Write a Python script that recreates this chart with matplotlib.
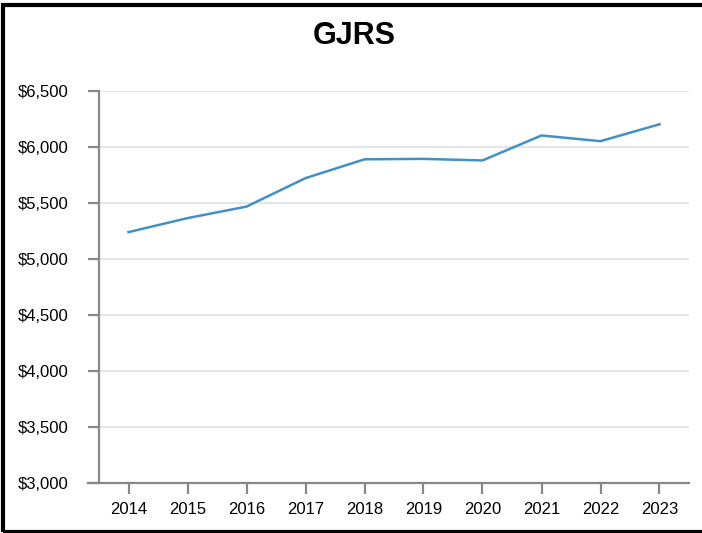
import matplotlib
matplotlib.use("Agg")
import matplotlib.pyplot as plt
from matplotlib.patches import Rectangle
from matplotlib.ticker import FuncFormatter

years = ["2014", "2015", "2016", "2017", "2018", "2019", "2020", "2021", "2022", "2023"]
values = [5240, 5365, 5468, 5722, 5890, 5894, 5880, 6103, 6052, 6203]
y_ticks = [3000, 3500, 4000, 4500, 5000, 5500, 6000, 6500]

plt.rcParams['font.family'] = ['Liberation Sans', 'DejaVu Sans']

W, H = 702, 533
fig = plt.figure(figsize=(W / 100, H / 100), dpi=100)
ax = fig.add_axes([99 / W, 1 - 483 / H, (689 - 99) / W, (483 - 91) / H])

x = list(range(len(years)))
ax.plot(x, values, color='#4590c2', linewidth=1.8, solid_joinstyle='miter', zorder=3)

ax.set_xlim(-0.5, len(years) - 0.5)
ax.set_ylim(3000, 6500)
ax.set_xticks(x)
ax.set_xticklabels(years)
ax.set_yticks(y_ticks)
ax.yaxis.set_major_formatter(FuncFormatter(lambda v, p: f"${int(v):,}"))

ax.grid(axis='y', color='#e6e6e6', linewidth=1.5, zorder=0)
ax.set_axisbelow(True)

for s in ['top', 'right']:
    ax.spines[s].set_visible(False)
for s in ['left', 'bottom']:
    ax.spines[s].set_color('#888888')
    ax.spines[s].set_linewidth(1.6)
ax.spines['bottom'].set_bounds(-0.5 - 11 / 59, len(years) - 0.5)

ax.tick_params(axis='both', colors='#888888', length=8, width=1.6, labelcolor='black', labelsize=12)
ax.tick_params(axis='y', pad=14)
ax.tick_params(axis='x', pad=6)

fig.text(354 / W, 1 - 36 / H, "GJRS", ha='center', va='center', fontsize=22, fontweight='bold')

fig.patches.append(Rectangle((2.5 / W, 1.5 / H), 2, (528.5 - 1.5) / H, transform=fig.transFigure,
                             fill=False, edgecolor='black', linewidth=3, clip_on=False))

fig.savefig("out.png", dpi=100)
